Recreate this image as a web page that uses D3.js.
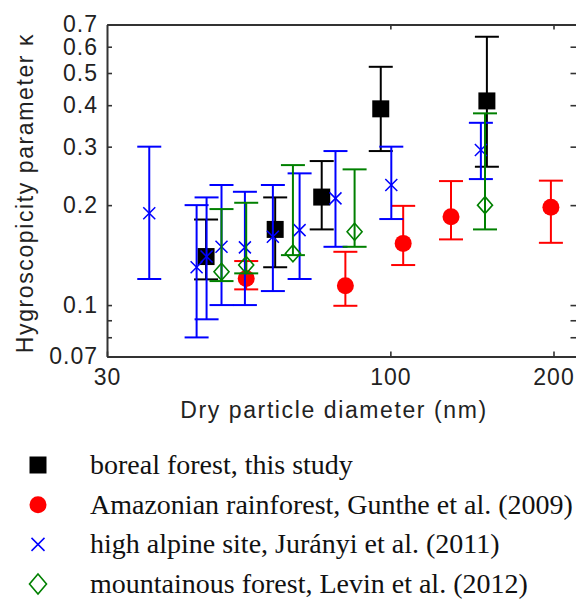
<!DOCTYPE html>
<html>
<head>
<meta charset="utf-8">
<script src="https://cdn.jsdelivr.net/npm/d3@7"></script>
<style>
  body { margin: 0; background: #fff; }
  svg { display: block; }
  .axis .domain { stroke: #333; stroke-width: 2; }
  .axis .tick line { stroke: #333; stroke-width: 1.6; }
  .axis .tick text {
    font-family: "Liberation Sans", Arial, sans-serif;
    font-size: 23px;
    letter-spacing: 1px;
    fill: #222;
  }
  .axis-title {
    font-family: "Liberation Sans", Arial, sans-serif;
    font-size: 23px;
    letter-spacing: 1.6px;
    fill: #222;
  }
  .legend-label {
    font-family: "Liberation Serif", "Times New Roman", serif;
    font-size: 28px;
    fill: #111;
  }
</style>
</head>
<body>
<div id="chart"></div>
<script>
// Dry diameter (nm), kappa, and error bar bounds

// boreal forest, this study
const borealDiameter = [45.7, 61.3, 74.7, 96.0, 150.7];
const borealKappa = [0.140, 0.169, 0.2115, 0.390, 0.412];
const borealLow = [0.1195, 0.130, 0.169, 0.291, 0.261];
const borealHigh = [0.181, 0.211, 0.2715, 0.522, 0.643];

// Amazonian rainforest, Gunthe et al. (2009)
const amazonDiameter = [54.2, 82.6, 105.6, 129.4, 197.8];
const amazonKappa = [0.1203, 0.1143, 0.1534, 0.1845, 0.197];
const amazonLow = [0.1115, 0.0995, 0.132, 0.1577, 0.154];
const amazonHigh = [0.1357, 0.1447, 0.199, 0.2363, 0.237];

// high alpine site, Jurányi et al. (2011)
const alpineDiameter = [35.9, 43.9, 45.8, 48.8, 53.9, 60.7, 68.0, 79.2, 100.4, 146.9];
const alpineKappa = [0.189, 0.130, 0.140, 0.1498, 0.1492, 0.1606, 0.1682, 0.2096, 0.230, 0.293];
const alpineLow = [0.1198, 0.0799, 0.0906, 0.100, 0.100, 0.1102, 0.1198, 0.1498, 0.1816, 0.2396];
const alpineHigh = [0.300, 0.200, 0.211, 0.230, 0.2194, 0.230, 0.2493, 0.291, 0.300, 0.354];

// mountainous forest, Levin et al. (2012)
const mountainDiameter = [48.8, 54.2, 66.1, 85.9, 149.5];
const mountainKappa = [0.126, 0.132, 0.1431, 0.1663, 0.200];
const mountainLow = [0.1181, 0.1246, 0.1414, 0.1498, 0.169];
const mountainHigh = [0.1946, 0.2033, 0.264, 0.2563, 0.378];

const legendLabels = [
  "boreal forest, this study",
  "Amazonian rainforest, Gunthe et al. (2009)",
  "high alpine site, Jurányi et al. (2011)",
  "mountainous forest, Levin et al. (2012)",
];

const xTickValues = [30, 100, 200];
const xTickLabels = ["30", "100", "200"];
const yTickValues = [0.07, 0.08, 0.09, 0.1, 0.2, 0.3, 0.4, 0.5, 0.6, 0.7];
const yTickLabels = ["0.07", "", "", "0.1", "0.2", "0.3", "0.4", "0.5", "0.6", "0.7"];

const width = 576;
const height = 600;

const svg = d3.select("#chart")
  .append("svg")
  .attr("width", width)
  .attr("height", height);

const x = d3.scaleLog().domain([30, 221]).range([107, 577]);
const y = d3.scaleLog().domain([0.07, 0.7]).range([356.5, 24.5]);

// marker shapes, centred on 0,0
const markerPaths = {
  square: (s) => `M${-s / 2},${-s / 2}h${s}v${s}h${-s}Z`,
  cross: (s) => `M${-s / 2},${-s / 2}L${s / 2},${s / 2}M${s / 2},${-s / 2}L${-s / 2},${s / 2}`,
  diamond: (s, t) => `M0,${-t / 2}L${s / 2},0L0,${t / 2}L${-s / 2},0Z`,
};

const zip = (d, k, lo, hi) => d.map((v, i) => ({ d: v, k: k[i], lo: lo[i], hi: hi[i] }));

const series = [
  { name: legendLabels[0], color: "#000", marker: "square", points: zip(borealDiameter, borealKappa, borealLow, borealHigh) },
  { name: legendLabels[1], color: "#ff0000", marker: "circle", points: zip(amazonDiameter, amazonKappa, amazonLow, amazonHigh) },
  { name: legendLabels[2], color: "#0000ff", marker: "cross", points: zip(alpineDiameter, alpineKappa, alpineLow, alpineHigh) },
  { name: legendLabels[3], color: "#008000", marker: "diamond", points: zip(mountainDiameter, mountainKappa, mountainLow, mountainHigh) },
];

function drawMarker(sel, s, big) {
  if (s.marker === "circle") {
    sel.append("circle").attr("r", 8.5).attr("fill", s.color);
  } else if (s.marker === "square") {
    sel.append("path").attr("d", markerPaths.square(17)).attr("fill", s.color);
  } else if (s.marker === "cross") {
    sel.append("path").attr("d", markerPaths.cross(big ? 13 : 12))
      .attr("fill", "none").attr("stroke", s.color).attr("stroke-width", 1.5);
  } else {
    sel.append("path").attr("d", big ? markerPaths.diamond(17, 20) : markerPaths.diamond(15, 17))
      .attr("fill", "none").attr("stroke", s.color).attr("stroke-width", 1.6);
  }
}

// axes (MATLAB-style box with inward ticks)
svg.append("g")
  .attr("class", "axis")
  .attr("transform", `translate(0,${y.range()[0]})`)
  .call(d3.axisBottom(x).tickValues(xTickValues)
    .tickFormat((d, i) => xTickLabels[i]).tickSize(-5).tickSizeOuter(0).tickPadding(12));

svg.append("g")
  .attr("class", "axis")
  .attr("transform", `translate(0,${y.range()[1]})`)
  .call(d3.axisTop(x).tickValues([100, 200]).tickFormat("").tickSize(-5).tickSizeOuter(0));

svg.append("g")
  .attr("class", "axis")
  .attr("transform", `translate(${x.range()[0]},0)`)
  .call(d3.axisLeft(y).tickValues(yTickValues)
    .tickFormat((d, i) => yTickLabels[i]).tickSize(-5).tickSizeOuter(0).tickPadding(9));

svg.append("g")
  .attr("class", "axis")
  .attr("transform", `translate(${x.range()[1]},0)`)
  .call(d3.axisRight(y).tickValues(yTickValues).tickFormat("").tickSize(-6.5).tickSizeOuter(0));

// data: error bars then markers, series in legend order
const capHalf = 12;
const plot = svg.append("g");

series.forEach((s) => {
  const g = plot.append("g");
  const bars = g.selectAll("g.bar").data(s.points).join("g").attr("class", "bar")
    .attr("stroke", s.color).attr("stroke-width", 2).attr("fill", "none");

  bars.append("line")
    .attr("x1", (p) => x(p.d)).attr("x2", (p) => x(p.d))
    .attr("y1", (p) => y(p.lo)).attr("y2", (p) => y(p.hi));
  bars.append("line")
    .attr("x1", (p) => x(p.d) - capHalf).attr("x2", (p) => x(p.d) + capHalf)
    .attr("y1", (p) => y(p.hi)).attr("y2", (p) => y(p.hi));
  bars.append("line")
    .attr("x1", (p) => x(p.d) - capHalf).attr("x2", (p) => x(p.d) + capHalf)
    .attr("y1", (p) => y(p.lo)).attr("y2", (p) => y(p.lo));

  g.selectAll("g.mark").data(s.points).join("g").attr("class", "mark")
    .attr("transform", (p) => `translate(${x(p.d)},${y(p.k)})`)
    .each(function () { drawMarker(d3.select(this), s, false); });
});

// axis titles
svg.append("text")
  .attr("class", "axis-title")
  .attr("x", 334)
  .attr("y", 418)
  .attr("text-anchor", "middle")
  .text("Dry particle diameter (nm)");

svg.append("text")
  .attr("class", "axis-title")
  .attr("transform", "translate(33,193) rotate(-90)")
  .attr("text-anchor", "middle")
  .text("Hygroscopicity parameter κ");

// legend below the axes
const legendBase = 474;
const legendStep = 39.7;

const legend = svg.append("g")
  .selectAll("g")
  .data(series)
  .join("g")
  .attr("transform", (s, i) => `translate(0,${legendBase + i * legendStep})`);

legend.append("g")
  .attr("transform", "translate(38,-9)")
  .each(function (s) { drawMarker(d3.select(this), s, true); });

legend.append("text")
  .attr("class", "legend-label")
  .attr("x", 90)
  .attr("y", 0)
  .text((s) => s.name);
</script>
</body>
</html>
